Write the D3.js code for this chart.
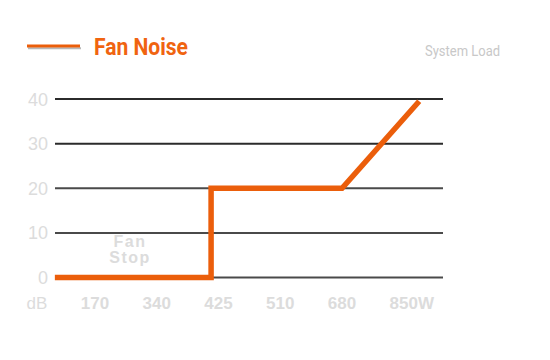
<!DOCTYPE html>
<html><head><meta charset="utf-8">
<script src="https://cdn.jsdelivr.net/npm/d3@7"></script>
<style>body{margin:0;background:#fff}svg{display:block}</style>
</head><body>
<svg id="c" width="550" height="360"></svg>
<script>
// Data
const xLabels = ["dB","170","340","425","510","680","850W"];
const yTicks = [0, 10, 20, 30, 40];
// Fan noise curve, x in category-index units, y in dB
const noiseX = [0.35, 2.88, 2.88, 5.0, 6.25];
const noiseY = [0, 0, 20, 20, 39.5];
const seriesName = "Fan Noise";
const axisTitle = "System Load";
const noteLines = ["Fan", "Stop"];

const svg = d3.select("#c");
const x = d3.scaleLinear().domain([1, 5]).range([95, 342]);
const y = d3.scaleLinear().domain([0, 40]).range([277.5, 99]);
const gridX0 = 55, gridX1 = 443;
const orange = "#eb5e0b";

// gridlines
svg.append("g").selectAll("line").data(yTicks).join("line")
  .attr("x1", gridX0).attr("x2", gridX1)
  .attr("y1", d => y(d)).attr("y2", d => y(d))
  .attr("stroke", d => d >= 30 ? "#2b2b2b" : "#4a4a4a")
  .attr("stroke-width", 2);

// y labels
svg.append("g").selectAll("text").data(yTicks).join("text")
  .attr("x", 48).attr("y", d => y(d) + 6.5)
  .attr("text-anchor", "end")
  .attr("font-family", "Liberation Sans, Arial, sans-serif")
  .attr("font-size", 18).attr("fill", "#dcdcdc")
  .text(d => d);

// x labels
svg.append("g").selectAll("text").data(xLabels).join("text")
  .attr("x", (d, i) => i === 0 ? 37 : (i === 6 ? x(i) + 8 : x(i)))
  .attr("y", 309)
  .attr("text-anchor", "middle")
  .attr("font-family", "Liberation Sans, Arial, sans-serif")
  .attr("font-size", 17)
  .attr("font-weight", (d, i) => i === 0 ? "normal" : "bold")
  .attr("fill", "#dcdcdc")
  .text(d => d);

// Fan Stop note (one text, two lines)
const note = svg.append("text")
  .attr("text-anchor", "middle")
  .attr("font-family", "Liberation Sans, Arial, sans-serif")
  .attr("font-size", 16).attr("font-weight", "bold")
  .attr("letter-spacing", 1.5)
  .attr("fill", "#dcdcdc");
note.selectAll("tspan").data(noteLines).join("tspan")
  .attr("x", 130).attr("y", (d, i) => 247 + i * 16)
  .text(d => d);

// line
const pts = noiseX.map((v, i) => [v, noiseY[i]]);
svg.append("path")
  .attr("d", d3.line().x(d => x(d[0])).y(d => y(d[1]))(pts))
  .attr("fill", "none").attr("stroke", orange)
  .attr("stroke-width", 5.5).attr("stroke-linejoin", "miter");

// legend
svg.append("line").attr("x1", 28).attr("x2", 81).attr("y1", 48.2).attr("y2", 48.2)
  .attr("stroke", "#b8b8b8").attr("stroke-width", 2);
svg.append("line").attr("x1", 27).attr("x2", 80).attr("y1", 46).attr("y2", 46)
  .attr("stroke", orange).attr("stroke-width", 3);
svg.append("text").attr("x", 94).attr("y", 55)
  .attr("font-family", "Roboto, sans-serif").attr("font-weight", "bold")
  .attr("font-size", 23).attr("fill", "#f06410")
  .attr("textLength", 94).attr("lengthAdjust", "spacingAndGlyphs")
  .text(seriesName);
svg.append("text").attr("x", 425).attr("y", 55.5)
  .attr("font-family", "Roboto, sans-serif")
  .attr("font-size", 15).attr("fill", "#c8c8c8")
  .attr("textLength", 75).attr("lengthAdjust", "spacingAndGlyphs")
  .text(axisTitle);
</script>
</body></html>
